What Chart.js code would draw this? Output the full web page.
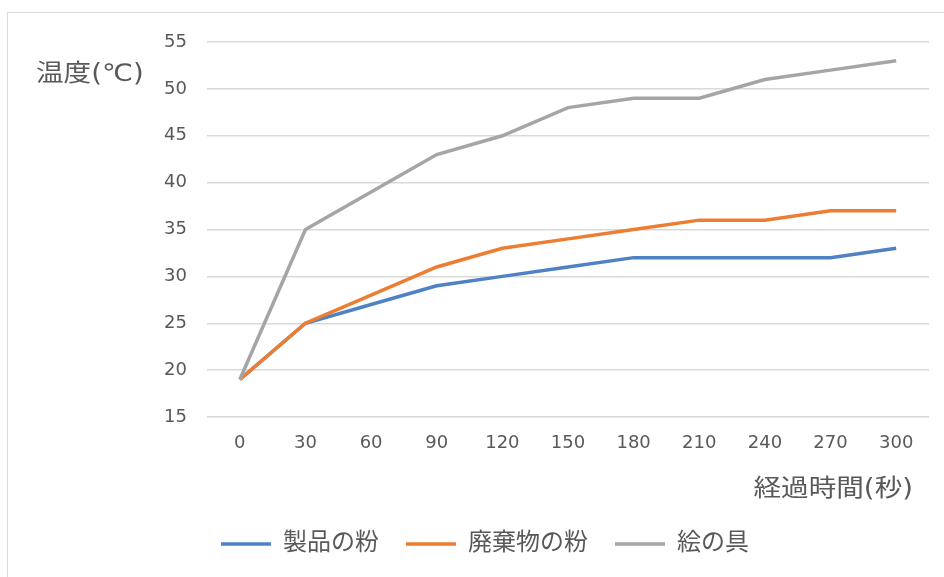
<!DOCTYPE html>
<html>
<head>
<meta charset="utf-8">
<script src="https://cdn.jsdelivr.net/npm/chart.js@4/dist/chart.umd.min.js"></script>
<style>
  html, body { margin: 0; background: #fff; }
  #wrap { position: relative; width: 944px; height: 577px; }
  #frame { position: absolute; left: 7px; top: 12px; width: 945px; height: 575px; border: 1px solid #d9d9d9; box-sizing: border-box; }
  canvas { position: absolute; left: 0; top: 0; }
</style>
</head>
<body>
<div id="wrap">
  <div id="frame"></div>
  <canvas id="grafico" width="944" height="577"></canvas>
</div>
<script>
const categorias = ['0', '30', '60', '90', '120', '150', '180', '210', '240', '270', '300'];
const seihinNoKona = [19, 25, 27, 29, 30, 31, 32, 32, 32, 32, 33];
const haikibutsuNoKona = [19, 25, 28, 31, 33, 34, 35, 36, 36, 37, 37];
const enogu = [19, 35, 39, 43, 45, 48, 49, 49, 51, 52, 53];
const yTicks = [15, 20, 25, 30, 35, 40, 45, 50, 55];

const fonte = '"DejaVu Sans", "Noto Sans CJK JP", sans-serif';
const corTexto = '#595959';

// axis titles sit where Excel puts them, not where Chart.js would
const titulosEixos = {
  id: 'titulosEixos',
  afterDraw(chart) {
    const c = chart.ctx;
    const esticar = 1.15; // the source picture is a bit wider than tall
    c.save();
    c.fillStyle = corTexto;
    c.font = '24px ' + fonte;
    c.textBaseline = 'middle';
    c.save();
    c.textAlign = 'left';
    c.translate(36, 75);
    c.scale(esticar, 1);
    c.fillText('温度(℃)', 0, 0);
    c.restore();
    c.save();
    c.textAlign = 'right';
    c.translate(chart.chartArea.right - 16, 490);
    c.scale(esticar, 1);
    c.fillText('経過時間(秒)', 0, 0);
    c.restore();
    c.restore();
  }
};

const ctx = document.getElementById('grafico').getContext('2d');

new Chart(ctx, {
  type: 'line',
  data: {
    labels: categorias,
    datasets: [
      { label: '製品の粉', data: seihinNoKona, borderColor: '#4e82c4', backgroundColor: '#4e82c4', borderWidth: 3.5, order: 3 },
      { label: '廃棄物の粉', data: haikibutsuNoKona, borderColor: '#ed7d31', backgroundColor: '#ed7d31', borderWidth: 3.5, order: 2 },
      { label: '絵の具', data: enogu, borderColor: '#a5a5a5', backgroundColor: '#a5a5a5', borderWidth: 3.5, order: 1 }
    ]
  },
  options: {
    responsive: false,
    animation: false,
    devicePixelRatio: 1,
    layout: { padding: { left: 41, right: 15, top: 42, bottom: 11 } },
    elements: {
      line: { tension: 0 },
      point: { radius: 0 }
    },
    plugins: {
      tooltip: { enabled: false },
      legend: {
        position: 'bottom',
        labels: {
          color: corTexto,
          font: { family: fonte, size: 24 },
          usePointStyle: true,
          pointStyle: 'line',
          pointStyleWidth: 50,
          padding: 27,
          sort: (a, b) => a.datasetIndex - b.datasetIndex
        }
      }
    },
    scales: {
      y: {
        min: 15,
        max: 55,
        afterBuildTicks: s => { s.ticks = yTicks.map(v => ({ value: v })); },
        afterFit: s => { s.width = 166; },
        ticks: {
          color: corTexto,
          padding: 20,
          font: { family: fonte, size: 18 }
        },
        grid: { color: '#d9d9d9', lineWidth: 1.5, drawTicks: false },
        border: { display: false }
      },
      x: {
        offset: true,
        afterFit: s => { s.height = 88; },
        ticks: {
          color: corTexto,
          padding: 16,
          maxRotation: 0,
          font: { family: fonte, size: 18 }
        },
        grid: { display: false, drawTicks: false },
        border: { display: false }
      }
    }
  },
  plugins: [titulosEixos]
});
</script>
</body>
</html>
